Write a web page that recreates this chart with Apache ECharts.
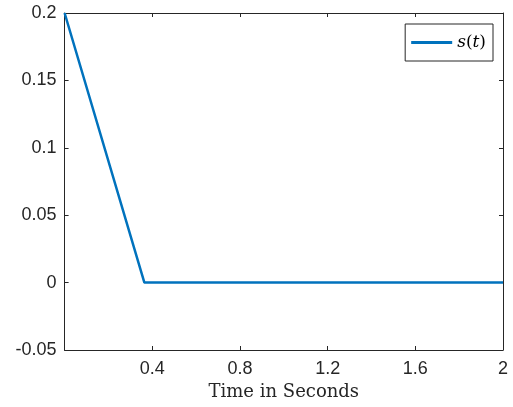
<!DOCTYPE html>
<html>
<head>
<meta charset="utf-8">
<script src="https://cdn.jsdelivr.net/npm/echarts@6/dist/echarts.min.js"></script>
<style>
  html, body { margin: 0; padding: 0; background: #fff; }
  #chart { width: 513px; height: 407px; }
</style>
</head>
<body>
<div id="chart"></div>
<script>
// time samples and signal values
const timeValues = [0, 0.364, 2];
const signalValues = [0.2, 0, 0];
const seriesName = "s(t)";

const axisColor = "#262626";
const lineColor = "#0072BD";
const labelFont = "'Liberation Sans', Arial, sans-serif";

const chart = echarts.init(document.getElementById("chart"), null, { renderer: "canvas" });

const xBase = {
  type: "value",
  min: 0,
  max: 2,
  interval: 0.4,
  axisLine: { show: true, onZero: false, lineStyle: { color: axisColor, width: 1 } },
  axisTick: { show: true, inside: true, length: 4, lineStyle: { color: axisColor } },
  splitLine: { show: false },
};
const yBase = {
  type: "value",
  min: -0.05,
  max: 0.2,
  interval: 0.05,
  axisLine: { show: true, onZero: false, lineStyle: { color: axisColor, width: 1 } },
  axisTick: { show: true, inside: true, length: 4, lineStyle: { color: axisColor } },
  splitLine: { show: false },
};

const options = {
  animation: false,
  grid: { left: 64.6, right: 10, top: 13, bottom: 57, containLabel: false },
  xAxis: [
    {
      ...xBase,
      position: "bottom",
      axisLabel: {
        color: axisColor,
        fontFamily: labelFont,
        fontSize: 18,
        margin: 10,
        showMinLabel: false,
        formatter: (v) => (v === 0 ? "" : String(+v.toFixed(2))),
      },
      name: "Time in Seconds",
      nameLocation: "middle",
      nameGap: 31,
      nameTextStyle: {
        color: axisColor,
        fontFamily: "'DejaVu Serif', 'Liberation Serif', serif",
        fontSize: 18,
      },
    },
    { ...xBase, position: "top", axisLabel: { show: false } },
  ],
  yAxis: [
    {
      ...yBase,
      position: "left",
      axisLabel: {
        color: axisColor,
        fontFamily: labelFont,
        fontSize: 18,
        margin: 8,
        formatter: (v) => String(+v.toFixed(2)),
      },
    },
    { ...yBase, position: "right", axisLabel: { show: false } },
  ],
  legend: {
    data: [{ name: seriesName, icon: "rect" }],
    right: 20,
    top: 24,
    orient: "vertical",
    backgroundColor: "#fff",
    borderColor: axisColor,
    borderWidth: 1,
    borderRadius: 0,
    padding: [10, 7, 10, 6],
    itemWidth: 41,
    itemHeight: 3,
    itemGap: 4,
    formatter: () => "{it|s}{up|(}{it|t}{up|)}",
    textStyle: {
      rich: {
        it: { fontFamily: "'DejaVu Serif', serif", fontStyle: "italic", fontSize: 17, color: "#000" },
        up: { fontFamily: "'DejaVu Serif', serif", fontSize: 17, color: "#000" },
      },
    },
  },
  series: [
    {
      name: seriesName,
      type: "line",
      xAxisIndex: 0,
      yAxisIndex: 0,
      symbol: "none",
      showSymbol: false,
      lineStyle: { color: lineColor, width: 2.5 },
      itemStyle: { color: lineColor },
      data: timeValues.map((t, i) => [t, signalValues[i]]),
    },
  ],
};

chart.setOption(options);
</script>
</body>
</html>
